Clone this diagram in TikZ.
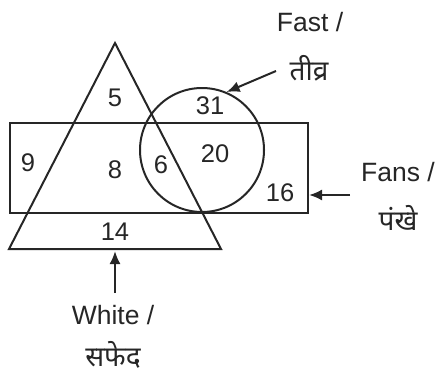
\documentclass[tikz,border=0pt]{standalone}
\usepackage{fontspec}
\setmainfont{Liberation Sans}
\newfontfamily\deva[Script=Devanagari]{Noto Sans}
\usetikzlibrary{arrows.meta}
\begin{document}
\begin{tikzpicture}[x=1pt,y=-1pt,
  shp/.style={draw=black!85,line width=2pt},
  num/.style={inner sep=0pt,font=\fontsize{25.5}{28}\selectfont,text=black!85},
  lbl/.style={inner sep=0pt,font=\fontsize{26.5}{30}\selectfont,text=black!85},
  dlbl/.style={inner sep=0pt,font=\deva\fontsize{28}{30}\selectfont,text=black!85},
  arr/.style={draw=black!85,line width=2pt,-{Latex[length=13pt,width=11pt]}}]
\useasboundingbox (0,0) rectangle (443,375);
% shapes
\node[shp,minimum width=298pt,minimum height=90pt,inner sep=0pt,anchor=north west] (rect) at (9,122) {};
\node[shp,circle,minimum size=124pt,inner sep=0pt] (circ) at (202,150) {};
\coordinate (apex) at (115,43);
\coordinate (bl) at (9,249);
\coordinate (br) at (221,249);
\draw[shp,line join=miter] (apex) -- (bl) -- (br) -- cycle;
% numbers
\node[num] (n5) at (115,98) {5};
\node[num] (n31) at (210,106) {31};
\node[num] (n9) at (28,163) {9};
\node[num] (n8) at (115,170) {8};
\node[num] (n6) at (161,165) {6};
\node[num] (n20) at (215,154) {20};
\node[num] (n16) at (280,193) {16};
\node[num] (n14) at (115,232) {14};
% labels
\node[lbl] (fast) at (310,22) {Fast /};
\node[dlbl] (tivra) at (309,68) {तीव्र};
\node[lbl] (fans) at (398,172) {Fans /};
\node[dlbl] (pankhe) at (398,218) {पंखे};
\node[lbl] (white) at (113,315) {White /};
\node[dlbl] (safed) at (113,355) {सफेद};
% arrows
\coordinate (fstart) at (276,71);
\coordinate (nstart) at (350,195);
\coordinate (nend) at (309,195);
\coordinate (wstart) at (115,293);
\coordinate (wend) at (115,251);
\draw[arr] (fstart) -- (circ.67);
\draw[arr] (nstart) -- (nend);
\draw[arr] (wstart) -- (wend);
\end{tikzpicture}
\end{document}
